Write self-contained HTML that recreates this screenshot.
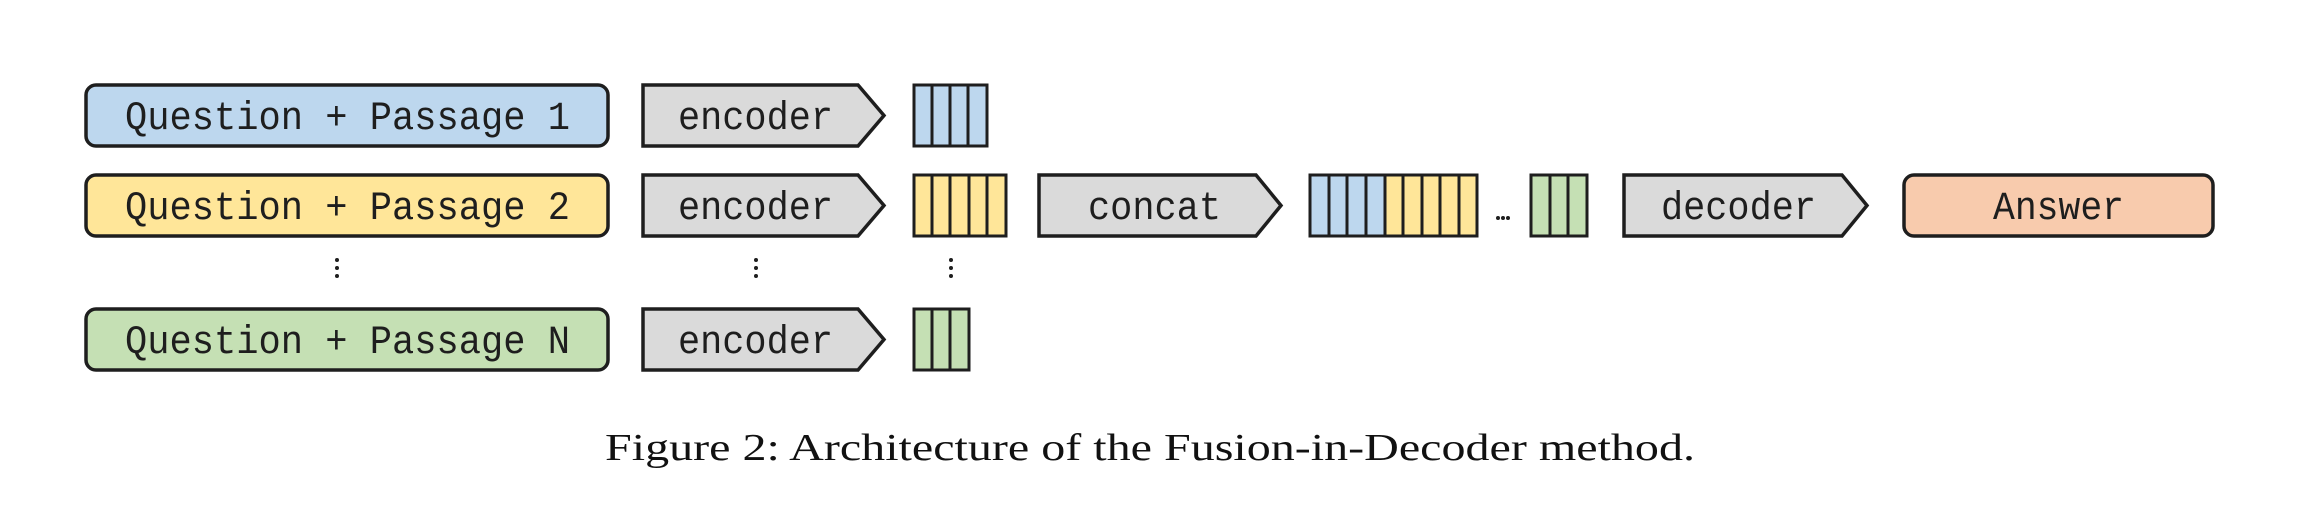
<!DOCTYPE html>
<html><head><meta charset="utf-8"><style>html,body{margin:0;padding:0;background:#fff}svg{display:block}</style></head>
<body>
<svg width="2309" height="526" viewBox="0 0 2309 526" xmlns="http://www.w3.org/2000/svg">
<g stroke="#1e1e1e" stroke-width="3.5" stroke-linejoin="round">
<rect x="86" y="85" width="522" height="61" rx="10" fill="#bdd7ee"/>
<rect x="86" y="175" width="522" height="61" rx="10" fill="#ffe699"/>
<rect x="86" y="309" width="522" height="61" rx="10" fill="#c5e0b4"/>
<polygon points="643,85 858,85 884,115.5 858,146 643,146" fill="#dadada" stroke-linejoin="miter"/>
<polygon points="643,175 858,175 884,205.5 858,236 643,236" fill="#dadada" stroke-linejoin="miter"/>
<polygon points="643,309 858,309 884,339.5 858,370 643,370" fill="#dadada" stroke-linejoin="miter"/>
<polygon points="1039,175 1256,175 1281,205.5 1256,236 1039,236" fill="#dadada" stroke-linejoin="miter"/>
<polygon points="1624,175 1842,175 1867,205.5 1842,236 1624,236" fill="#dadada" stroke-linejoin="miter"/>
<rect x="1904" y="175" width="309" height="61" rx="10" fill="#f8cbad"/>
</g>
<g stroke="#1e1e1e" stroke-width="3">
<rect x="914" y="85" width="73" height="61" fill="#bdd7ee"/>
<path d="M932 85V146M950 85V146M968 85V146"/>
<rect x="914" y="175" width="92" height="61" fill="#ffe699"/>
<path d="M932 175V236M950 175V236M969 175V236M987 175V236"/>
<rect x="914" y="309" width="55" height="61" fill="#c5e0b4"/>
<path d="M932 309V370M950 309V370"/>
<rect x="1310" y="175" width="75" height="61" fill="#bdd7ee"/>
<rect x="1385" y="175" width="92" height="61" fill="#ffe699"/>
<path d="M1329 175V236M1347 175V236M1366 175V236M1403 175V236M1422 175V236M1440 175V236M1459 175V236"/>
<rect x="1531" y="175" width="56" height="61" fill="#c5e0b4"/>
<path d="M1550 175V236M1568 175V236"/>
</g>
<g fill="#1e1e1e">
<circle cx="337" cy="260" r="2"/><circle cx="337" cy="268" r="2"/><circle cx="337" cy="276" r="2"/>
<circle cx="756" cy="260" r="2"/><circle cx="756" cy="268" r="2"/><circle cx="756" cy="276" r="2"/>
<circle cx="951" cy="260" r="2"/><circle cx="951" cy="268" r="2"/><circle cx="951" cy="276" r="2"/>
<circle cx="1498" cy="218" r="2"/><circle cx="1503" cy="218" r="2"/><circle cx="1508" cy="218" r="2"/>
</g>
<g font-family="'Liberation Mono', monospace" font-size="40" fill="#1e1e1e">
<text x="125" y="129" textLength="445" lengthAdjust="spacingAndGlyphs">Question + Passage 1</text>
<text x="125" y="219" textLength="445" lengthAdjust="spacingAndGlyphs">Question + Passage 2</text>
<text x="125" y="353" textLength="445" lengthAdjust="spacingAndGlyphs">Question + Passage N</text>
<text x="678" y="129" textLength="155" lengthAdjust="spacingAndGlyphs">encoder</text>
<text x="678" y="219" textLength="155" lengthAdjust="spacingAndGlyphs">encoder</text>
<text x="678" y="353" textLength="155" lengthAdjust="spacingAndGlyphs">encoder</text>
<text x="1088" y="219" textLength="133" lengthAdjust="spacingAndGlyphs">concat</text>
<text x="1661" y="219" textLength="155" lengthAdjust="spacingAndGlyphs">decoder</text>
<text x="1993" y="219" textLength="131" lengthAdjust="spacingAndGlyphs">Answer</text>
</g>
<text x="605" y="460" font-family="'Liberation Serif', serif" font-size="38" fill="#111" textLength="1090" lengthAdjust="spacingAndGlyphs">Figure 2: Architecture of the Fusion-in-Decoder method.</text>
</svg>
</body></html>
